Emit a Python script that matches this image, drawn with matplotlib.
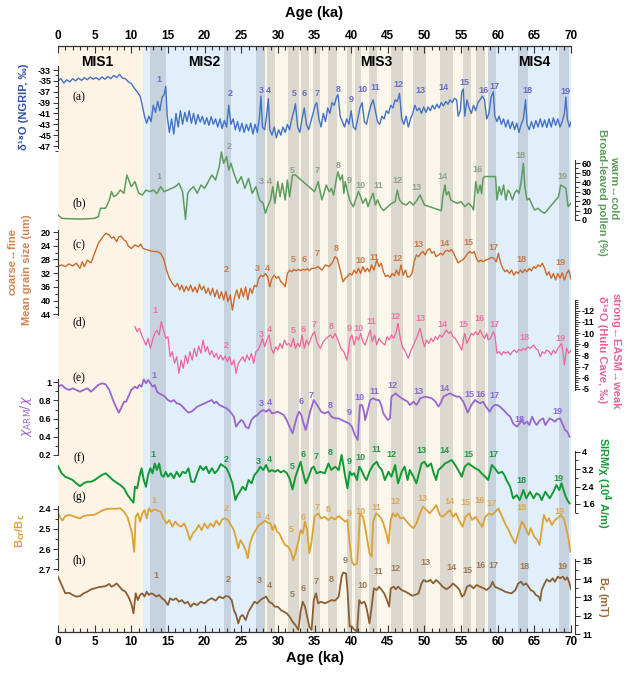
import numpy as np
import matplotlib
matplotlib.use('Agg')
import matplotlib.pyplot as plt
from matplotlib.ticker import FixedLocator, FixedFormatter

plt.rcParams['font.family'] = ['Liberation Sans', 'DejaVu Sans']
plt.rcParams['axes.unicode_minus'] = False

# ---------------- background periods ----------------
mis_bounds = [(0, 11.6, 'mis1'), (11.6, 28.3, 'blue'), (28.3, 58.7, 'cream'), (58.7, 70, 'blue')]
dark_bands = [(12.6, 14.7), (22.6, 23.6), (27.0, 28.3), (58.7, 59.8), (62.8, 64.2), (68.3, 69.7)]
grey_bands = [(28.5, 29.6), (31.4, 32.9), (33.1, 34.3), (34.8, 35.7), (36.9, 38.1), (39.4, 40.1),
              (40.5, 41.4), (42.5, 43.5), (45.5, 47.1), (48.4, 50.2), (52.1, 53.9), (55.2, 56.3),
              (57.0, 58.3)]
mis_names = ['MIS1', 'MIS2', 'MIS3', 'MIS4']
mis_x = [5.4, 20.0, 43.4, 65.0]

# ---------------- (a) NGRIP d18O ----------------
age_a = [0, 0.4, 0.8, 1.2, 1.6, 2, 2.4, 2.8, 3.2, 3.6, 4, 4.4, 4.8, 5.2, 5.6, 6, 6.4, 6.8, 7.2, 7.6, 8, 8.4, 8.8,
         9.2, 9.6, 10, 10.4, 10.8, 11.2, 11.5, 11.8, 12.1, 12.4, 12.7, 13, 13.3, 13.6, 13.9, 14.2, 14.5, 14.7,
         14.9, 15.2, 15.5, 15.8, 16.1, 16.4, 16.7, 17, 17.3, 17.6, 17.9, 18.2, 18.5, 18.8, 19.1, 19.4, 19.7,
         20, 20.3, 20.6, 20.9, 21.2, 21.5, 21.8, 22.1, 22.4, 22.7, 23.0, 23.3, 23.6, 23.9, 24.2, 24.5, 24.8,
         25.1, 25.4, 25.7, 26, 26.3, 26.6, 26.9, 27.2, 27.5, 27.7, 27.9, 28.2, 28.5, 28.7, 28.9, 29.2, 29.5,
         29.8, 30.1, 30.4, 30.7, 31, 31.3, 31.6, 31.9, 32.2, 32.4, 32.7, 33.0, 33.3, 33.6, 33.9, 34.2, 34.5,
         34.8, 35.1, 35.3, 35.6, 35.9, 36.2, 36.5, 36.8, 37.1, 37.4, 37.7, 38.0, 38.2, 38.5, 38.8, 39.1, 39.4,
         39.7, 40.0, 40.3, 40.6, 40.9, 41.2, 41.5, 41.8, 42.1, 42.4, 42.7, 43.0, 43.3, 43.6, 43.9, 44.2, 44.5,
         44.8, 45.1, 45.4, 45.7, 46.0, 46.3, 46.6, 46.9, 47.2, 47.5, 47.8, 48.1, 48.4, 48.7, 49.0, 49.3, 49.6,
         49.9, 50.2, 50.5, 50.8, 51.1, 51.4, 51.7, 52.0, 52.3, 52.6, 52.9, 53.2, 53.5, 53.8, 54.1, 54.4, 54.6,
         54.9, 55.1, 55.3, 55.5, 55.8, 56.1, 56.4, 56.7, 57.0, 57.3, 57.6, 57.9, 58.2, 58.5, 58.8, 59.1, 59.4,
         59.6, 59.9, 60.2, 60.5, 60.8, 61.1, 61.4, 61.7, 62.0, 62.3, 62.6, 62.9, 63.2, 63.5, 63.8, 64.0, 64.3,
         64.6, 64.9, 65.2, 65.5, 65.8, 66.1, 66.4, 66.7, 67.0, 67.3, 67.6, 67.9, 68.2, 68.5, 68.8, 69.1, 69.3,
         69.5, 69.8, 70.0]
d18o_ngrip = [-35.0, -34.6, -35.4, -34.8, -35.2, -34.6, -35.0, -34.5, -34.9, -34.4, -34.8, -34.3, -34.7, -34.4,
              -34.8, -34.3, -34.7, -34.2, -34.6, -34.0, -34.4, -33.8, -34.5, -34.6, -35.2, -35.5, -36.3, -37.0,
              -37.8, -39.5, -41.5, -42.8, -41.5, -42.5, -39.5, -40.8, -38.8, -40.5, -38.0, -37.5, -36.0, -41.5,
              -44.5, -42.0, -44.8, -41.0, -43.5, -40.5, -43.0, -40.8, -42.5, -40.5, -42.8, -41.0, -43.0, -41.2,
              -42.6, -41.5, -43.0, -41.8, -43.2, -41.6, -43.0, -42.0, -43.5, -42.0, -43.8, -42.3, -43.5, -39.5,
              -43.0, -42.0, -44.0, -42.5, -44.3, -42.8, -44.5, -43.0, -44.2, -42.8, -44.8, -43.0, -44.5, -41.5,
              -37.8, -43.5, -44.0, -41.0, -38.3, -44.0, -45.0, -43.5, -45.5, -44.0, -45.0, -43.5, -44.5, -43.0,
              -44.0, -42.0, -40.5, -39.2, -43.5, -44.5, -42.0, -40.0, -43.0, -44.0, -42.5, -41.0, -39.5, -39.0,
              -42.0, -43.5, -41.0, -42.5, -40.0, -41.0, -39.0, -39.5, -38.0, -37.5, -41.5, -42.5, -43.5, -42.0,
              -43.0, -40.5, -43.5, -44.0, -42.0, -40.0, -39.0, -42.5, -43.0, -41.0, -39.5, -38.5, -40.5, -42.5,
              -43.0, -41.5, -42.0, -40.5, -41.0, -39.5, -40.0, -38.5, -38.8, -37.3, -42.0, -43.0, -41.5, -43.5,
              -42.0, -41.0, -39.5, -40.5, -40.0, -41.0, -39.8, -40.8, -39.8, -40.5, -39.5, -40.2, -39.3, -40.0,
              -39.0, -39.6, -38.8, -39.3, -38.5, -39.0, -38.2, -38.5, -41.5, -40.5, -37.0, -36.5, -41.5, -38.5,
              -40.0, -41.0, -39.5, -40.5, -39.0, -38.5, -37.8, -38.5, -42.0, -41.0, -38.0, -37.0, -41.5, -42.5,
              -41.5, -43.0, -42.0, -43.5, -42.2, -43.8, -42.5, -44.0, -42.8, -44.5, -43.0, -42.0, -38.5, -43.0,
              -44.0, -42.5, -43.8, -42.3, -43.5, -42.0, -43.5, -42.2, -43.6, -42.0, -43.5, -41.8, -43.2, -42.0,
              -43.5, -42.5, -41.0, -38.0, -42.0, -43.5, -42.5]
lab_a_x = [13.8, 23.5, 27.7, 28.7, 32.3, 33.6, 35.3, 38.2, 40.0, 41.6, 43.3, 46.4, 49.4, 52.6, 55.4, 58.0, 59.6, 64.1, 69.2]
lab_a_y = [-34.8, -37.4, -36.8, -36.8, -37.4, -37.4, -37.4, -36.6, -38.4, -36.6, -36.2, -35.6, -36.8, -36.2, -35.3,
           -36.8, -36.1, -36.8, -37.0]
lab_a_n = [str(i) for i in range(1, 20)]

# ---------------- (b) broad-leaved pollen ----------------
age_b = [0, 0.5, 1, 2, 3, 4, 5, 5.5, 5.8, 6.5, 7, 7.3, 7.6, 8, 8.5, 9, 9.4, 10, 10.5, 11, 11.5, 12, 12.5, 13, 13.5,
         14, 14.5, 15, 15.5, 16, 16.5, 17, 17.4, 17.7, 18, 18.5, 19, 19.5, 20, 20.5, 21, 21.5, 22, 22.3, 22.6, 23,
         23.3, 23.6, 24, 24.5, 25, 25.5, 26, 26.5, 27, 27.5, 28, 28.3, 28.6, 29, 29.3, 29.6, 30, 30.3, 30.6, 31,
         31.3, 31.6, 32, 32.4, 35.0, 35.5, 36, 36.3, 36.6, 37, 37.3, 37.6, 38, 38.2, 38.5, 38.8, 39, 39.2, 39.5,
         39.8, 40, 40.3, 40.6, 41, 41.3, 41.6, 42, 42.3, 42.6, 43, 43.3, 43.6, 44, 44.4, 45, 45.5, 46, 46.3, 46.6,
         47, 47.5, 48, 48.5, 49, 49.4, 49.8, 50, 52.3, 52.5, 52.8, 53, 53.3, 53.6, 54, 54.5, 55, 55.5, 56, 56.5,
         56.7, 57, 57.3, 57.6, 57.8, 58.0, 58.2, 59.7, 59.9, 60.2, 60.5, 60.8, 61.1, 61.4, 61.7, 62, 62.3, 62.6,
         62.9, 63.2, 63.5, 63.7, 64, 64.3, 64.6, 65, 65.5, 66, 66.4, 68.3, 68.6, 69.0, 69.3, 69.6, 70]
pollen = [5.3, 1.8, 1.5, 1.2, 1.0, 1.2, 1.8, 3.5, 12.3, 12.5, 21, 30, 24.7, 26.5, 31.7, 28.2, 47.6, 35.3, 40.6, 28.6,
          26.4, 31.7, 30, 31.7, 28, 35.3, 30, 31.7, 33.5, 35.3, 38.8, 30, 0.5, 28, 31.7, 35.3, 28.2, 37, 33.5, 40.6,
          47.6, 42.3, 56.4, 72, 60, 67, 52.9, 60, 49.4, 38.8, 45.9, 33.5, 44, 28.2, 35.3, 21.2, 17.6, 7.1, 14.1, 21.2,
          35.3, 17.6, 40.6, 24.7, 38.8, 21.2, 42.3, 24.7, 47.6, 47.6, 30, 40.6, 21.2, 28.2, 37, 30, 33.5, 26.5, 44,
          51, 42.3, 47.6, 28.2, 40.6, 30, 21.2, 17.6, 14.1, 21.2, 30, 24.7, 17.6, 22.9, 14.1, 21.2, 28.2, 15.9, 21.2,
          14.1, 9.9, 14.1, 17.6, 19.4, 31.7, 21.2, 17.6, 15.9, 19.4, 15.9, 21.2, 26.5, 19.4, 15.9, 9.9, 24.7, 37,
          26.5, 30, 21.2, 19.4, 17.6, 19.4, 14.1, 17.6, 14.1, 10.6, 40.6, 28.2, 37, 28, 44, 46, 46, 21.2, 35.3, 26.5,
          37, 21.2, 31.7, 28.2, 21.2, 28.2, 31.7, 28.2, 40.6, 60, 35.3, 21.2, 22.9, 17.6, 10.6, 12.3, 8.8, 7.1, 24.7,
          37, 35.3, 33.5, 14.1, 17.6]
lab_b_x = [13.8, 23.3, 27.7, 28.8, 32.0, 35.3, 38.2, 39.8, 41.3, 43.7, 46.3, 48.9, 52.5, 57.3, 63.1, 68.9]
lab_b_y = [45.8, 77.6, 40.5, 40.5, 52.2, 52.2, 57.4, 42.3, 36.3, 36.3, 42.3, 34.2, 45.8, 53.6, 68.0, 45.8]
lab_b_n = ['1', '2', '3', '4', '5', '7', '8', '9', '10', '11', '12', '13', '14', '16', '18', '19']

# ---------------- (c) mean grain size ----------------
age_c = [0, 0.5, 1, 1.5, 2, 2.5, 3, 3.3, 3.6, 4, 4.5, 5, 5.5, 6, 6.3, 6.6, 7, 7.3, 7.6, 8, 8.3, 8.6, 9, 9.3, 9.6, 10,
         10.5, 11, 11.3, 11.6, 12, 12.5, 13, 13.5, 14, 14.4, 14.8, 15.2, 15.6, 16, 16.3, 16.6, 16.9, 17.2, 17.5,
         17.8, 18.1, 18.4, 18.7, 19, 19.3, 19.6, 19.9, 20.2, 20.5, 20.8, 21.1, 21.4, 21.7, 22, 22.3, 22.6, 22.9,
         23.2, 23.5, 23.8, 24.1, 24.4, 24.7, 25, 25.3, 25.6, 25.9, 26.2, 26.5, 26.8, 27.1, 27.4, 27.7, 28, 28.3,
         28.6, 28.9, 29.2, 29.5, 29.8, 30.1, 30.4, 30.7, 31.0, 31.3, 31.6, 31.9, 32.2, 32.5, 32.8, 33.1, 33.4,
         33.7, 34.0, 34.3, 34.6, 35, 35.5, 36, 36.5, 37, 37.5, 37.8, 38.1, 38.5, 38.9, 39.2, 39.5, 39.8, 40.1,
         40.4, 40.7, 41.0, 41.3, 41.6, 41.9, 42.2, 42.5, 42.8, 43.1, 43.5, 43.8, 44.1, 44.4, 44.7, 45.0, 45.3,
         45.6, 45.9, 46.2, 46.5, 46.8, 47.1, 47.4, 47.7, 48.0, 48.3, 48.6, 48.9, 49.2, 49.5, 49.8, 50.1, 50.4,
         50.7, 51, 51.3, 51.6, 51.9, 52.2, 52.5, 52.8, 53.1, 53.4, 53.7, 54, 54.3, 54.6, 55, 55.3, 55.6, 55.9,
         56.2, 56.5, 56.8, 57.1, 57.4, 57.7, 58, 58.3, 58.6, 58.9, 59.2, 59.5, 59.8, 60.1, 60.4, 60.7, 61, 61.3,
         61.6, 61.9, 62.2, 62.5, 62.8, 63.1, 63.4, 63.7, 64, 64.3, 64.6, 64.9, 65.2, 65.5, 65.8, 66.1, 66.4,
         66.7, 67, 67.3, 67.6, 67.9, 68.2, 68.5, 68.8, 69.1, 69.4, 69.7, 70]
grain = [29.9, 29.6, 30.1, 29.3, 29.9, 29.1, 30.6, 28.7, 30.1, 28.2, 29.0, 26.2, 23.3, 21.8, 20.9, 20.4, 20.9, 21.8,
         21.4, 22.8, 21.4, 21.2, 22.3, 22.8, 24.1, 24.8, 23.8, 24.3, 23.5, 24.8, 25.1, 25.4, 25.7, 25.7, 26.2, 27.7,
         31.1, 33.5, 35.0, 36.0, 35.0, 36.9, 35.5, 37.4, 35.8, 37.1, 35.5, 37.4, 36.0, 37.7, 35.2, 36.9, 35.8, 37.9,
         36.4, 38.4, 36.4, 38.9, 36.9, 39.4, 37.4, 39.8, 37.4, 40.3, 38.4, 42.8, 38.9, 36.9, 39.4, 36.4, 38.9, 36.0,
         39.8, 36.4, 37.9, 35.5, 36.0, 33.5, 32.6, 33.0, 32.1, 33.0, 36.0, 33.5, 32.6, 33.5, 33.0, 34.5, 35.0, 36.0,
         32.1, 31.1, 31.6, 30.9, 31.3, 30.9, 31.3, 30.9, 31.1, 30.7, 31.3, 30.6, 30.6, 30.1, 31.1, 29.6, 30.1, 28.7,
         27.2, 27.7, 31.1, 34.5, 33.5, 33.0, 32.1, 32.6, 31.1, 32.1, 30.6, 32.1, 30.1, 31.6, 30.6, 31.6, 29.6, 31.1,
         28.2, 30.1, 29.1, 31.6, 33.0, 32.6, 33.2, 32.1, 32.8, 31.1, 32.6, 29.6, 32.6, 31.1, 33.2, 33.0, 32.1, 28.7,
         26.7, 27.2, 26.2, 25.7, 26.7, 25.3, 24.8, 26.2, 25.7, 27.2, 26.7, 26.2, 26.7, 25.7, 25.3, 25.7, 25.1, 26.2,
         27.7, 29.0, 28.4, 28.0, 27.2, 26.2, 25.7, 26.2, 25.7, 27.7, 28.7, 28.2, 28.7, 28.2, 28.0, 27.7, 27.4, 27.7,
         28.7, 26.2, 29.1, 30.6, 31.6, 31.1, 32.1, 31.1, 32.6, 31.6, 32.1, 31.1, 31.9, 30.9, 31.6, 30.6, 31.3, 30.1,
         30.6, 29.6, 30.1, 29.1, 30.6, 32.6, 31.6, 33.5, 32.1, 34.0, 32.1, 33.5, 31.9, 34.0, 32.1, 31.1, 33.8]
lab_c_x = [23.0, 27.2, 28.6, 32.1, 33.6, 35.3, 37.9, 41.3, 43.2, 46.3, 49.2, 52.7, 56.0, 59.4, 63.2, 68.5]
lab_c_y = [30.9, 30.6, 30.6, 28.0, 28.0, 26.4, 24.8, 28.4, 27.4, 27.7, 23.5, 23.3, 23.0, 24.5, 27.9, 29.0]
lab_c_n = ['2', '3', '4', '5', '6', '7', '8', '10', '11', '12', '13', '14', '15', '17', '18', '19']

# ---------------- (d) Hulu Cave d18O ----------------
age_d = [10.5, 10.8, 11.1, 11.4, 11.7, 12, 12.3, 12.6, 12.9, 13.2, 13.5, 13.8, 14.1, 14.4, 14.7, 15.0, 15.3, 15.6,
         15.9, 16.2, 16.5, 16.8, 17.1, 17.4, 17.7, 18.0, 18.3, 18.6, 18.9, 19.2, 19.5, 19.8, 20.1, 20.4, 20.7, 21,
         21.3, 21.6, 21.9, 22.2, 22.5, 22.8, 23.1, 23.4, 23.7, 24.0, 24.3, 24.6, 24.9, 25.2, 25.5, 25.8, 26.1,
         26.4, 26.7, 27.0, 27.3, 27.6, 27.9, 28.2, 28.5, 28.8, 29.1, 29.4, 29.7, 30.0, 30.3, 30.6, 30.9, 31.2,
         31.5, 31.8, 32.1, 32.4, 32.7, 33.0, 33.3, 33.6, 33.9, 34.2, 34.5, 34.8, 35.0, 35.4, 35.8, 36.2, 36.6,
         36.9, 37.2, 37.5, 37.8, 38.2, 38.6, 39.0, 39.4, 39.6, 39.8, 40.1, 40.4, 40.7, 41.0, 41.3, 41.6, 41.9,
         42.2, 42.6, 42.9, 43.2, 43.5, 43.8, 44.1, 44.6, 44.9, 45.2, 45.5, 45.8, 46.1, 46.4, 46.7, 47.0, 47.4,
         47.8, 48.1, 48.4, 48.7, 49.0, 49.4, 49.7, 50.0, 50.3, 50.6, 50.9, 51.2, 51.5, 51.8, 52.1, 52.4, 52.7,
         53.0, 53.3, 53.6, 53.9, 54.2, 54.6, 55.1, 55.3, 55.5, 55.8, 56.1, 56.4, 56.7, 57.0, 57.3, 57.6, 57.9,
         58.2, 58.5, 58.7, 59.0, 59.4, 59.6, 59.9, 60.2, 60.5, 60.8, 61.1, 61.4, 61.7, 62.0, 62.3, 62.6, 62.9,
         63.2, 63.5, 63.8, 64.1, 64.4, 64.9, 65.2, 65.5, 65.8, 66.1, 66.4, 66.7, 67.0, 67.3, 67.6, 67.9, 68.2,
         68.7, 68.9, 69.1, 69.4, 69.7, 70.0]
d18o_hulu = [-10.57, -10.12, -10.42, -9.83, -9.38, -8.93, -9.53, -8.63, -9.38, -9.97, -10.27, -9.83, -11.02, -10.27,
             -9.53, -9.68, -7.89, -8.34, -7.29, -7.89, -6.40, -7.59, -6.85, -8.04, -7.29, -8.34, -7.59, -8.63, -7.89,
             -8.84, -8.19, -9.38, -8.34, -8.78, -8.04, -8.43, -7.83, -8.19, -7.65, -8.04, -7.59, -7.95, -7.44, -7.89,
             -7.14, -7.59, -6.40, -7.29, -7.59, -7.89, -7.44, -8.04, -7.59, -8.19, -7.29, -8.34, -8.48, -8.93, -9.53,
             -8.78, -9.38, -9.83, -8.63, -8.19, -8.78, -8.48, -9.08, -8.63, -9.38, -8.93, -9.08, -8.78, -9.53, -8.63,
             -9.08, -8.78, -9.83, -8.63, -9.38, -8.93, -9.53, -9.97, -10.12, -9.08, -8.63, -9.23, -9.53, -9.68, -9.83,
             -9.53, -9.97, -9.38, -8.63, -8.34, -7.59, -8.19, -9.38, -9.83, -8.93, -9.68, -9.38, -9.97, -9.23, -8.93,
             -9.53, -10.27, -9.23, -9.83, -8.93, -9.53, -9.23, -8.93, -9.68, -9.38, -9.83, -9.53, -9.97, -10.87, -9.53,
             -8.78, -8.34, -7.74, -8.34, -8.78, -9.23, -9.68, -10.42, -9.53, -8.78, -9.38, -9.08, -9.53, -9.23, -9.68,
             -9.44, -9.83, -9.62, -9.97, -10.27, -9.97, -10.12, -9.68, -9.53, -9.08, -8.48, -9.38, -9.97, -9.08, -9.53,
             -9.97, -9.83, -10.12, -9.83, -10.27, -9.83, -9.53, -9.97, -9.38, -9.53, -10.12, -9.83, -8.19, -8.34, -8.04,
             -8.34, -8.19, -8.34, -8.04, -8.34, -8.48, -8.25, -8.54, -8.43, -8.63, -8.48, -8.78, -8.63, -8.93, -8.63,
             -8.48, -7.89, -8.34, -8.19, -8.48, -8.34, -8.04, -8.48, -8.19, -8.63, -9.08, -8.34, -7.14, -8.63, -8.19,
             -8.48]
lab_d_x = [13.2, 22.9, 27.7, 28.9, 32.1, 33.5, 34.9, 37.3, 39.7, 41.0, 42.8, 46.1, 49.4, 52.5, 55.3, 57.5, 59.5, 63.7, 68.6]
lab_d_y = [-12.0, -8.93, -9.83, -10.36, -10.19, -10.36, -10.81, -10.63, -10.43, -10.43, -11.02, -11.46, -11.26,
           -10.81, -10.81, -11.32, -10.78, -9.62, -9.53]
lab_d_n = [str(i) for i in range(1, 20)]

# ---------------- (e) chi_ARM / chi ----------------
age_e = [0, 0.5, 1, 1.5, 2, 2.5, 3, 3.5, 4, 4.5, 5, 5.5, 6, 6.5, 7, 7.5, 8, 8.3, 8.6, 9, 9.3, 9.6, 10, 10.5, 10.8,
         11.1, 11.4, 11.7, 12, 12.3, 12.6, 12.9, 13.2, 13.5, 13.8, 14.2, 14.6, 15, 15.4, 15.8, 16.2, 16.6, 17,
         17.4, 17.8, 18.2, 18.6, 19, 19.5, 20, 20.5, 21, 21.3, 21.6, 22, 22.5, 23, 23.5, 24, 24.3, 24.6, 25, 25.3,
         25.6, 26, 26.4, 26.8, 27.2, 27.6, 28, 28.4, 28.8, 29.2, 29.6, 30, 30.4, 30.8, 31.2, 31.6, 32.0, 32.3,
         32.6, 32.9, 33.2, 33.5, 33.8, 34.1, 34.4, 34.9, 35.5, 35.9, 36.4, 36.9, 37.3, 37.8, 38.3, 38.7, 39.2,
         39.7, 40.1, 40.5, 40.9, 41.2, 41.5, 41.8, 41.9, 42.1, 42.6, 43.0, 43.5, 43.8, 44.1, 44.4, 44.7, 45.0,
         45.3, 45.5, 45.8, 46.1, 46.3, 46.6, 46.9, 47.3, 47.7, 48.0, 48.3, 48.5, 48.9, 49.2, 49.4, 49.8, 50.1,
         50.5, 51.0, 51.5, 51.9, 52.2, 52.6, 53.0, 53.5, 53.9, 54.4, 54.8, 55.3, 55.6, 55.9, 56.4, 56.9, 57.2,
         57.6, 58.0, 58.4, 58.9, 59.3, 59.6, 59.9, 60.3, 60.8, 61.2, 61.7, 62.1, 62.6, 63.0, 63.3, 63.6, 64.0,
         64.3, 64.7, 65.0, 65.3, 65.8, 66.2, 66.5, 66.8, 67.1, 67.5, 67.8, 68.1, 68.5, 68.8, 69.2, 69.5, 69.8]
chi_ratio = [0.952, 0.971, 0.934, 0.916, 0.934, 0.916, 0.897, 0.916, 0.934, 0.897, 0.934, 0.971, 0.989, 0.978,
             0.916, 0.805, 0.714, 0.666, 0.714, 0.787, 0.787, 0.842, 0.916, 0.952, 0.934, 0.971, 0.952, 1.033, 0.989,
             1.026, 0.989, 0.952, 0.971, 0.897, 0.879, 0.860, 0.842, 0.805, 0.787, 0.805, 0.769, 0.761, 0.732, 0.695,
             0.666, 0.677, 0.702, 0.732, 0.750, 0.769, 0.787, 0.805, 0.769, 0.787, 0.750, 0.732, 0.714, 0.677, 0.622,
             0.511, 0.548, 0.585, 0.567, 0.511, 0.493, 0.585, 0.622, 0.640, 0.677, 0.695, 0.677, 0.702, 0.658, 0.666,
             0.677, 0.658, 0.640, 0.585, 0.511, 0.438, 0.530, 0.622, 0.677, 0.640, 0.548, 0.475, 0.567, 0.677, 0.805,
             0.732, 0.677, 0.658, 0.677, 0.622, 0.603, 0.603, 0.585, 0.567, 0.548, 0.511, 0.420, 0.365, 0.750, 0.750,
             0.658, 0.585, 0.640, 0.805, 0.824, 0.805, 0.805, 0.750, 0.658, 0.622, 0.585, 0.603, 0.842, 0.860, 0.879,
             0.860, 0.842, 0.824, 0.805, 0.787, 0.750, 0.769, 0.787, 0.750, 0.787, 0.824, 0.835, 0.842, 0.835, 0.824,
             0.787, 0.732, 0.769, 0.842, 0.860, 0.879, 0.860, 0.842, 0.842, 0.787, 0.732, 0.666, 0.750, 0.805, 0.787,
             0.769, 0.787, 0.732, 0.677, 0.732, 0.750, 0.750, 0.732, 0.695, 0.658, 0.622, 0.548, 0.511, 0.548, 0.585,
             0.541, 0.567, 0.530, 0.622, 0.567, 0.530, 0.585, 0.603, 0.530, 0.567, 0.603, 0.585, 0.567, 0.592, 0.603,
             0.548, 0.475, 0.456, 0.401]
lab_e_x = [13.1, 27.7, 28.9, 33.2, 34.6, 37.2, 39.7, 41.2, 43.2, 45.7, 49.2, 52.7, 56.1, 57.6, 59.6, 63.0, 68.2]
lab_e_y = [1.08, 0.769, 0.775, 0.786, 0.86, 0.75, 0.665, 0.83, 0.896, 0.963, 0.896, 0.934, 0.868, 0.868, 0.86, 0.596, 0.684]
lab_e_n = ['1', '3', '4', '6', '7', '8', '9', '10', '11', '12', '13', '14', '15', '16', '17', '18', '19']

# ---------------- (f) SIRM / chi ----------------
age_f = [0, 0.5, 1, 1.5, 2, 2.5, 3, 3.5, 4, 4.5, 5, 5.5, 6, 6.5, 7, 7.5, 8, 8.5, 9, 9.5, 10, 10.3, 10.5, 10.8, 11.1,
         11.4, 11.7, 12, 12.3, 12.6, 12.9, 13.2, 13.5, 13.8, 14.1, 14.4, 14.7, 15, 15.4, 15.8, 16.2, 16.6, 17, 17.4,
         17.8, 18.2, 18.6, 19, 19.4, 19.8, 20.2, 20.6, 21, 21.4, 21.8, 22.2, 22.6, 23, 23.4, 23.8, 24.2, 24.5, 24.8,
         25.2, 25.6, 26, 26.4, 26.8, 27.2, 27.6, 28.0, 28.4, 28.8, 29.2, 29.6, 30, 30.4, 30.8, 31.2, 31.6, 32, 32.4,
         32.8, 33.1, 33.4, 33.8, 34.2, 34.6, 34.9, 35.3, 35.8, 36.4, 36.9, 37.3, 37.8, 38.3, 38.7, 39.2, 39.5, 39.8,
         40.1, 40.4, 40.8, 41.1, 41.4, 41.8, 42.1, 42.5, 43.0, 43.5, 43.8, 44.2, 44.6, 45.1, 45.5, 46.0, 46.4, 46.9,
         47.3, 47.7, 48.0, 48.5, 48.9, 49.3, 49.6, 50.0, 50.4, 50.9, 51.2, 51.6, 51.9, 52.4, 52.8, 53.3, 53.7, 54.2,
         54.6, 55.1, 55.5, 56.0, 56.5, 56.9, 57.4, 57.8, 58.3, 58.7, 59.2, 59.6, 60.1, 60.6, 60.9, 61.2, 61.7, 62.1,
         62.6, 63.0, 63.5, 63.9, 64.4, 64.9, 65.3, 65.7, 66.0, 66.5, 66.8, 67.1, 67.6, 68.0, 68.4, 68.7, 69.2, 69.5,
         69.8]
sirm_chi = [3.34, 3.01, 2.85, 2.78, 2.70, 2.55, 2.42, 2.55, 2.62, 2.62, 2.70, 2.82, 2.93, 3.01, 2.85, 2.70, 2.58, 2.47,
            2.32, 2.01, 1.78, 1.66, 2.39, 2.32, 2.85, 3.24, 2.70, 2.39, 2.93, 3.24, 3.01, 3.46, 3.16, 3.46, 2.93, 2.85,
            3.08, 2.85, 3.01, 2.78, 3.08, 2.85, 3.08, 3.01, 3.24, 2.62, 2.62, 3.01, 3.34, 3.16, 3.31, 3.01, 3.24, 3.01,
            3.16, 3.43, 3.34, 3.24, 2.93, 2.55, 1.78, 2.01, 2.16, 2.39, 2.24, 2.70, 2.55, 2.93, 3.08, 3.31, 3.16, 3.39,
            3.08, 3.16, 3.08, 3.16, 3.05, 3.12, 3.03, 2.78, 2.27, 2.85, 3.24, 3.54, 3.08, 2.55, 2.85, 3.24, 3.31, 3.01,
            3.08, 3.01, 3.46, 3.16, 3.31, 3.16, 3.85, 2.85, 2.32, 3.08, 2.93, 3.01, 2.70, 3.31, 3.16, 2.85, 2.70, 3.08,
            3.39, 3.54, 3.31, 3.16, 2.70, 3.08, 2.85, 3.39, 2.55, 3.08, 3.31, 2.70, 3.16, 2.85, 2.55, 3.08, 3.46, 3.54,
            3.31, 3.46, 3.08, 2.70, 3.16, 3.31, 3.46, 3.54, 3.62, 3.39, 3.16, 2.85, 3.31, 3.46, 3.34, 3.24, 3.16, 3.01,
            2.85, 2.70, 3.39, 3.24, 3.01, 3.08, 2.93, 2.70, 2.39, 1.86, 2.01, 1.78, 2.24, 1.86, 2.16, 1.86, 2.09, 2.01,
            1.78, 2.16, 2.01, 1.86, 2.16, 2.47, 2.24, 2.55, 2.01, 1.78, 1.63]
lab_f_x = [13.0, 23.0, 27.3, 28.9, 32.0, 33.4, 35.2, 37.1, 39.8, 41.3, 43.5, 45.5, 49.6, 52.8, 56.0, 59.4, 63.2, 68.3]
lab_f_y = [3.85, 3.65, 3.54, 3.65, 3.31, 3.89, 3.77, 3.95, 3.57, 3.72, 4.08, 3.85, 4.05, 4.05, 3.89, 3.89, 2.70, 2.78]
lab_f_n = ['1', '2', '3', '4', '5', '6', '7', '8', '9', '10', '11', '12', '13', '14', '15', '17', '18', '19']

# ---------------- (g) Bcr / Bc ----------------
age_g = [0, 0.3, 0.6, 1, 1.5, 2, 2.5, 3, 3.5, 4, 4.5, 5, 5.5, 6, 6.5, 7, 8, 8.5, 9, 9.5, 9.8, 10.1, 10.4, 10.6, 10.9,
         11.2, 11.5, 11.8, 12.1, 12.4, 12.7, 13, 13.3, 13.6, 14, 14.4, 14.8, 15.2, 15.6, 16, 16.4, 16.8, 17.2, 17.6,
         18, 18.4, 18.8, 19.2, 19.6, 20, 20.4, 20.8, 21.2, 21.6, 22, 22.4, 22.8, 23.2, 23.6, 24, 24.3, 24.6, 24.9,
         25.2, 25.6, 25.9, 26.2, 26.6, 27.0, 27.4, 27.8, 28.2, 28.6, 29.0, 29.3, 29.6, 29.9, 30.2, 30.6, 31, 31.4,
         31.8, 32.1, 32.4, 32.8, 33.1, 33.4, 33.7, 34.0, 34.3, 34.6, 35.0, 35.5, 35.9, 36.4, 36.9, 37.3, 37.8, 38.3,
         38.7, 39.2, 39.5, 39.8, 40.1, 40.4, 40.8, 41.0, 41.2, 41.6, 41.9, 42.2, 42.5, 42.8, 43.0, 43.4, 43.7, 44.1,
         44.4, 44.8, 45.1, 45.4, 45.7, 46.0, 46.3, 46.7, 47.1, 47.6, 48.0, 48.5, 48.9, 49.4, 49.8, 50.2, 50.7, 51.1,
         51.6, 52.1, 52.5, 53.0, 53.5, 53.9, 54.3, 54.7, 55.2, 55.6, 56.1, 56.5, 57.0, 57.4, 57.9, 58.3, 58.8, 59.2,
         59.7, 60.1, 60.6, 61.0, 61.5, 61.9, 62.4, 62.8, 63.3, 63.7, 64.2, 64.5, 65.0, 65.4, 65.7, 66.0, 66.3, 66.7,
         67.0, 67.4, 67.8, 68.3, 68.6, 69.0, 69.3, 69.7, 69.9]
bcr_bc = [2.423, 2.443, 2.459, 2.436, 2.431, 2.436, 2.443, 2.448, 2.436, 2.433, 2.431, 2.430, 2.420, 2.410, 2.403,
          2.400, 2.400, 2.398, 2.415, 2.443, 2.481, 2.522, 2.613, 2.440, 2.423, 2.464, 2.423, 2.407, 2.448, 2.398,
          2.415, 2.407, 2.403, 2.410, 2.415, 2.448, 2.473, 2.456, 2.489, 2.464, 2.481, 2.489, 2.473, 2.506, 2.555,
          2.522, 2.506, 2.481, 2.506, 2.473, 2.497, 2.473, 2.489, 2.459, 2.481, 2.453, 2.448, 2.456, 2.481, 2.506,
          2.547, 2.596, 2.555, 2.572, 2.605, 2.646, 2.572, 2.530, 2.506, 2.481, 2.473, 2.459, 2.469, 2.473, 2.506,
          2.481, 2.514, 2.522, 2.555, 2.580, 2.588, 2.613, 2.654, 2.621, 2.563, 2.506, 2.522, 2.464, 2.506, 2.621,
          2.563, 2.440, 2.423, 2.448, 2.440, 2.456, 2.443, 2.453, 2.436, 2.448, 2.464, 2.456, 2.572, 2.662, 2.679,
          2.671, 2.572, 2.423, 2.440, 2.489, 2.555, 2.621, 2.638, 2.464, 2.423, 2.431, 2.448, 2.473, 2.522, 2.572,
          2.456, 2.423, 2.440, 2.423, 2.448, 2.443, 2.464, 2.481, 2.497, 2.473, 2.423, 2.390, 2.403, 2.423, 2.407,
          2.382, 2.431, 2.440, 2.423, 2.407, 2.440, 2.423, 2.456, 2.489, 2.440, 2.423, 2.456, 2.440, 2.464, 2.489,
          2.440, 2.423, 2.431, 2.415, 2.398, 2.440, 2.473, 2.506, 2.539, 2.572, 2.522, 2.464, 2.489, 2.530, 2.497,
          2.539, 2.555, 2.580, 2.506, 2.431, 2.464, 2.448, 2.481, 2.456, 2.443, 2.431, 2.448, 2.489, 2.555, 2.613]
lab_g_x = [13.1, 23.0, 27.3, 28.6, 31.8, 33.5, 35.3, 36.9, 39.8, 41.3, 43.5, 46.0, 49.8, 53.4, 55.6, 57.5, 59.1, 63.3, 68.4]
lab_g_y = [2.36, 2.40, 2.436, 2.443, 2.505, 2.443, 2.393, 2.406, 2.423, 2.415, 2.393, 2.365, 2.349, 2.365, 2.37,
           2.36, 2.373, 2.395, 2.415]
lab_g_n = [str(i) for i in range(1, 20)]

# ---------------- (h) Bc ----------------
age_h = [0, 0.5, 1, 1.5, 2, 2.5, 3, 3.5, 4, 4.5, 5, 5.5, 6, 6.5, 7, 7.3, 7.7, 8, 8.4, 8.8, 9.2, 9.6, 10, 10.3, 10.6,
         10.9, 11.2, 11.5, 11.8, 12.1, 12.4, 12.7, 13, 13.4, 13.8, 14.2, 14.6, 15, 15.3, 15.7, 16.1, 16.5, 16.9,
         17.3, 17.7, 18.1, 18.5, 19, 19.5, 20, 20.5, 21, 21.5, 22, 22.5, 22.9, 23.3, 23.7, 24.0, 24.3, 24.6, 24.9,
         25.2, 25.6, 26, 26.4, 26.8, 27.2, 27.6, 28, 28.4, 28.8, 29.2, 29.6, 30, 30.4, 30.8, 31.2, 31.6, 32.0,
         32.4, 32.8, 33.1, 33.4, 33.7, 34.0, 34.3, 34.6, 34.9, 35.2, 35.5, 35.9, 36.4, 36.9, 37.3, 37.8, 38.3,
         38.7, 38.9, 39.3, 39.5, 39.8, 40.1, 40.4, 40.8, 41.1, 41.4, 41.8, 42.0, 42.2, 42.5, 42.8, 43.1, 43.5,
         43.8, 44.1, 44.5, 44.8, 45.2, 45.4, 45.8, 46.1, 46.4, 46.9, 47.4, 47.8, 48.3, 48.7, 49.2, 49.6, 49.9,
         50.3, 50.8, 51.2, 51.6, 52.1, 52.5, 53.0, 53.5, 53.9, 54.4, 54.8, 55.1, 55.4, 55.8, 56.2, 56.7, 57.1,
         57.6, 58.1, 58.5, 59.0, 59.3, 59.6, 60.1, 60.6, 61.0, 61.5, 61.9, 62.4, 62.8, 63.2, 63.5, 63.9, 64.2,
         64.5, 64.9, 65.2, 65.6, 65.8, 66.0, 66.4, 66.7, 67.1, 67.5, 67.8, 68.2, 68.5, 68.9, 69.2, 69.5, 69.8, 70.0]
bc = [14.13, 13.67, 13.22, 13.25, 13.13, 13.04, 13.07, 13.22, 13.31, 13.44, 13.49, 13.55, 13.58, 13.62, 13.73, 13.58,
      13.67, 13.76, 13.58, 13.40, 13.31, 13.04, 12.67, 12.13, 13.22, 12.85, 13.13, 13.22, 13.04, 13.31, 13.13, 13.22,
      13.18, 13.04, 13.13, 12.95, 12.82, 12.58, 12.95, 12.85, 12.95, 12.76, 12.85, 12.67, 12.76, 12.49, 12.67, 12.58,
      12.76, 12.67, 12.85, 12.95, 12.82, 13.04, 12.95, 13.07, 13.04, 12.85, 12.31, 12.04, 11.58, 11.95, 12.04, 11.76,
      12.22, 12.49, 12.76, 12.67, 12.85, 12.95, 13.04, 12.76, 12.67, 12.49, 12.49, 12.31, 12.22, 12.13, 11.95, 11.67,
      11.49, 11.22, 12.22, 12.76, 12.49, 11.95, 11.40, 11.22, 12.85, 13.22, 12.67, 12.76, 12.67, 12.76, 12.85, 12.82,
      13.04, 14.13, 14.35, 14.31, 13.40, 11.40, 11.40, 11.25, 11.13, 12.85, 12.67, 12.76, 12.58, 12.22, 11.58, 12.49,
      13.49, 13.40, 13.58, 13.44, 13.22, 12.95, 12.49, 13.49, 13.58, 13.44, 13.58, 13.40, 13.31, 13.22, 13.09, 13.13,
      13.22, 13.76, 13.95, 13.85, 13.95, 13.76, 13.95, 13.76, 13.58, 13.44, 13.58, 13.76, 13.58, 13.40, 13.04, 13.13,
      13.58, 13.67, 13.49, 13.67, 13.58, 13.49, 13.40, 13.58, 13.85, 13.58, 13.49, 13.40, 13.31, 13.25, 13.22, 13.40,
      13.76, 13.85, 13.67, 13.76, 13.58, 13.40, 13.31, 13.13, 13.04, 12.82, 13.40, 13.76, 13.98, 13.85, 14.04, 13.85,
      14.13, 14.04, 14.13, 13.95, 14.09, 13.76, 13.44]
lab_h_x = [13.4, 23.2, 27.5, 28.9, 31.9, 33.5, 35.2, 37.3, 39.2, 41.5, 43.7, 46.1, 50.1, 53.7, 55.9, 57.7, 59.4, 63.7, 68.8]
lab_h_y = [14.18, 14.0, 13.91, 13.64, 13.17, 13.46, 13.85, 13.95, 15.0, 13.62, 14.4, 14.59, 14.89, 14.64, 14.44,
           14.73, 14.73, 14.67, 14.71]
lab_h_n = [str(i) for i in range(1, 20)]

# ---------------- figure layout ----------------
W, H = 633, 680
X0, X1, YT, YB = 58, 571, 46, 632
PT, PB = 30, 648          # vertical extent of the transparent panel axes
fig = plt.figure(figsize=(W / 100, H / 100), dpi=100)
rect = [X0 / W, 1 - YB / H, (X1 - X0) / W, (YB - YT) / H]
prect = [X0 / W, 1 - PB / H, (X1 - X0) / W, (PB - PT) / H]

C_MIS1 = '#fdf4e6'
C_BLUE = '#e1effb'
C_CREAM = '#fbf6ea'
C_DARK = '#c6d3df'
C_GREY = '#dbd8cf'

bg = fig.add_axes(rect)
bg.set_xlim(0, 70)
bg.set_ylim(0, 1)
cmap = {'mis1': C_MIS1, 'blue': C_BLUE, 'cream': C_CREAM}
for s, e, k in mis_bounds:
    bg.axvspan(s, e, color=cmap[k], lw=0, zorder=0)
for s, e in grey_bands:
    bg.axvspan(s, e, color=C_GREY, lw=0, zorder=0.5)
for s, e in dark_bands:
    bg.axvspan(s, e, color=C_DARK, lw=0, zorder=0.6)
for k in ['left', 'right']:
    bg.spines[k].set_visible(False)
for k in ['top', 'bottom']:
    bg.spines[k].set_linewidth(0.9)
    bg.spines[k].set_color('#333333')
bg.set_yticks([])
bg.set_xticks(np.arange(0, 71, 5))
bg.set_xticks(np.arange(0, 71, 1), minor=True)
bg.tick_params(axis='x', which='both', direction='in', top=True, bottom=True,
               labeltop=True, labelbottom=True, color='#333333', width=0.8)
bg.tick_params(axis='x', which='major', length=5, labelsize=8.5, pad=3)
bg.tick_params(axis='x', which='minor', length=3)
for t in bg.get_xticklabels():
    t.set_fontweight('bold')
bg.set_xlabel('Age (ka)', fontsize=10.5, fontweight='bold', labelpad=2)
fig.text(314 / W, 1 - 13 / H, 'Age (ka)', ha='center', va='center', fontsize=10.5, fontweight='bold')


def yfrac(py):
    return (YB - py) / (YB - YT)


for name, x in zip(mis_names, mis_x):
    bg.text(x, yfrac(62), name, ha='center', va='center', fontsize=10, fontweight='bold', zorder=5)

panel_tags = ['(a)', '(b)', '(c)', '(d)', '(e)', '(f)', '(g)', '(h)']
panel_tag_py = [97, 203, 245, 322, 378, 458, 497, 560]
for tg, py in zip(panel_tags, panel_tag_py):
    bg.text(2.9, yfrac(py), tg, ha='center', va='center', fontsize=8.5, family='Liberation Serif', zorder=5)


def panel(side, ref, major, labels, minor, bounds):
    ax = fig.add_axes(prect, facecolor='none')
    ax.set_xlim(0, 70)
    (v1, p1), (v2, p2) = ref
    s = (v2 - v1) / (p2 - p1)
    ax.set_ylim(v1 + (PB - p1) * s, v1 + (PT - p1) * s)
    for k in ['top', 'bottom', 'left', 'right']:
        ax.spines[k].set_visible(False)
    ax.spines[side].set_visible(True)
    ax.spines[side].set_bounds(*bounds)
    ax.spines[side].set_linewidth(0.8)
    ax.spines[side].set_color('#333333')
    if side == 'right':
        ax.spines[side].set_position(('outward', 3))
    ax.set_xticks([])
    ax.yaxis.set_ticks_position(side)
    ax.yaxis.set_major_locator(FixedLocator(major))
    ax.yaxis.set_major_formatter(FixedFormatter(labels))
    ax.yaxis.set_minor_locator(FixedLocator(minor))
    ax.tick_params(axis='y', which='both', direction='out', color='#333333', width=0.7)
    ax.tick_params(axis='y', which='major', length=3.5, labelsize=6.5, pad=1.5)
    ax.tick_params(axis='y', which='minor', length=2)
    for t in ax.get_yticklabels():
        t.set_fontweight('bold')
    return ax


def put_labels(ax, xs, ys, ns, col):
    for x, y, n in zip(xs, ys, ns):
        ax.text(x, y, n, ha='center', va='center', fontsize=6.5, fontweight='bold', color=col, zorder=6)


# (a)
ax = panel('left', ((-33, 70), (-47, 146)), [-33, -35, -37, -39, -41, -43, -45, -47],
           ['-33', '-35', '-37', '-39', '-41', '-43', '-45', '-47'], list(range(-48, -32)), (-47.4, -32.2))
ax.plot(age_a, d18o_ngrip, color='#4472c4', lw=1.0)
put_labels(ax, lab_a_x, lab_a_y, lab_a_n, '#6a6ccc')

# (b)
ax = panel('right', ((60, 163.3), (0, 220)), [0, 10, 20, 30, 40, 50, 60],
           ['0', '10', '20', '30', '40', '50', '60'], list(range(0, 64, 5)), (-0.5, 63))
ax.plot(age_b, pollen, color='#5e9c5e', lw=1.1)
put_labels(ax, lab_b_x, lab_b_y, lab_b_n, '#8da48d')

# (c)
ax = panel('left', ((20, 232), (44, 314.3)), [20, 24, 28, 32, 36, 40, 44],
           ['20', '24', '28', '32', '36', '40', '44'], list(range(20, 45, 2)), (19.5, 44.3))
ax.plot(age_c, grain, color='#cc6a2c', lw=1.0)
put_labels(ax, lab_c_x, lab_c_y, lab_c_n, '#cc7a48')

# (d)
ax = panel('right', ((-12, 310.7), (-5, 389)), [-12, -11, -10, -9, -8, -7, -6, -5],
           ['-12', '-11', '-10', '-9', '-8', '-7', '-6', '-5'], list(np.arange(-13.0, -4.85, 0.2)), (-4.9, -13.0))
ax.plot(age_d, d18o_hulu, color='#f0649c', lw=0.9)
put_labels(ax, lab_d_x, lab_d_y, lab_d_n, '#ef74a4')

# (e)
ax = panel('left', ((1, 382.3), (0.2, 455)), [1, 0.8, 0.6, 0.4, 0.2],
           ['1', '0.8', '0.6', '0.4', '0.2'], list(np.arange(0.2, 1.05, 0.1)), (0.2, 1.04))
ax.plot(age_e, chi_ratio, color='#9966d0', lw=1.3)
put_labels(ax, lab_e_x, lab_e_y, lab_e_n, '#8a6ad8')

# (f)
ax = panel('right', ((4, 451.7), (1.6, 504)), [4, 3.2, 2.4, 1.6],
           ['4', '3.2', '2.4', '1.6'], list(np.arange(1.2, 4.05, 0.4)), (1.25, 4.05))
ax.plot(age_f, sirm_chi, color='#129a35', lw=1.4)
put_labels(ax, lab_f_x, lab_f_y, lab_f_n, '#1e9a46')

# (g)
ax = panel('left', ((2.4, 508.7), (2.7, 569.3)), [2.4, 2.5, 2.6, 2.7],
           ['2.4', '2.5', '2.6', '2.7'], list(np.arange(2.4, 2.71, 0.05)), (2.385, 2.705))
ax.plot(age_g, bcr_bc, color='#dca236', lw=1.3)
put_labels(ax, lab_g_x, lab_g_y, lab_g_n, '#dcaa55')

# (h)
ax = panel('right', ((15, 560.7), (11, 634)), [11, 12, 13, 14, 15],
           ['11', '12', '13', '14', '15'], list(np.arange(11, 15.1, 0.5)), (11, 15.1))
ax.plot(age_h, bc, color='#8b5e34', lw=1.3)
put_labels(ax, lab_h_x, lab_h_y, lab_h_n, '#a07a58')

# ---------------- axis titles ----------------
def side_text(px, py, s, col, rot, size=8, weight='bold'):
    fig.text(px / W, 1 - py / H, s, ha='center', va='center', rotation=rot, color=col,
             fontsize=size, fontweight=weight)

side_text(24, 107, 'δ¹⁸O (NGRIP, ‰)', '#2e4fa8', 90)
side_text(602, 192, 'Broad-leaved pollen (%)', '#5e9c5e', 270)
side_text(614, 188, 'warm↔cold', '#5e9c5e', 270)
side_text(13, 262, 'coarse↔fine', '#d48350', 90)
side_text(27, 270, 'Mean grain size (um)', '#d48350', 90)
side_text(616, 351, 'strong←EASM→weak', '#e8609a', 270)
side_text(602, 350, 'δ¹⁸O (Hulu Cave, ‰)', '#e8609a', 270)
side_text(26, 416, r'$\chi_{\mathrm{ARM}}/\chi$', '#9966d0', 90, size=9, weight='normal')
side_text(603, 483, r'SIRM/χ (10$^{\mathbf{4}}$ A/m)', '#129a35', 270)
side_text(20, 531, r'B$_{\mathbf{cr}}$/B$_{\mathbf{c}}$', '#dca236', 90)
side_text(603, 597, r'B$_{\mathbf{c}}$ (mT)', '#9a6a3a', 270)

fig.savefig('out.png', dpi=100)
